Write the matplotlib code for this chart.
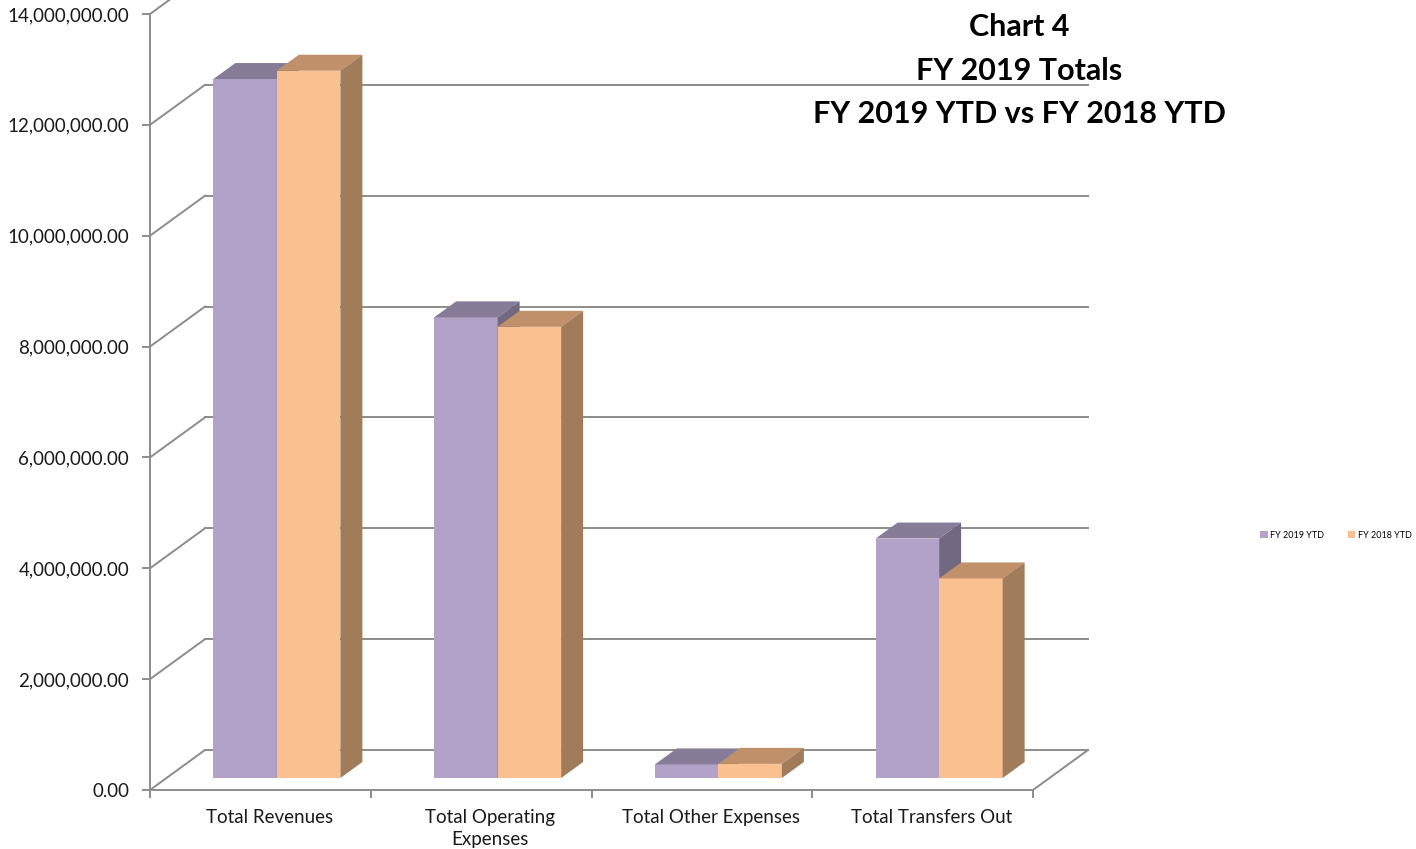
import matplotlib.pyplot as plt
import matplotlib.transforms as mtransforms
from matplotlib.patches import Polygon, Patch
from matplotlib.ticker import FuncFormatter

categories = ["Total Revenues", "Total Operating\nExpenses", "Total Other Expenses", "Total Transfers Out"]
series_names = ["FY 2019 YTD", "FY 2018 YTD"]
fy2019 = [12610000, 8310000, 245000, 4320000]
fy2018 = [12760000, 8140000, 255000, 3600000]
y_ticks = [0, 2e6, 4e6, 6e6, 8e6, 10e6, 12e6, 14e6]
title_lines = ["Chart 4", "FY 2019 Totals", "FY 2019 YTD vs FY 2018 YTD"]

# face colours: front, top, side
purple = ("#B3A2C7", "#877C97", "#736882")
orange = ("#FAC090", "#BF906A", "#A07C5B")

plt.rcParams["font.family"] = ["Lato", "DejaVu Sans"]

fig = plt.figure(figsize=(14.16, 8.49), dpi=100)
W, H = 1416, 849
ax = fig.add_axes([150 / W, (H - 790) / H, 883 / W, 776 / H])
ax.set_xlim(0, 4)
ax.set_ylim(0, 14e6)

# oblique depth offset (full depth of the wall)
dx = 55 / 883 * 4
dy = 40 / 776 * 14e6
grid_col = "#8C8C8C"
lw = 1.4

# back wall gridlines and left-wall diagonals
for v in y_ticks:
    ax.plot([0, dx], [v, v + dy], color=grid_col, lw=lw, clip_on=False, zorder=1)
    ax.plot([dx, 4 + dx], [v + dy, v + dy], color=grid_col, lw=lw, clip_on=False, zorder=1)
# floor right edge
ax.plot([4, 4 + dx], [0, dy], color=grid_col, lw=lw, clip_on=False, zorder=1)

# bars
bw = 0.2877
d0, d1 = 0.3, 0.7
for i in range(len(categories)):
    c = i + 0.5
    for j, (vals, cols) in enumerate([(fy2019, purple), (fy2018, orange)]):
        v = vals[i]
        x0 = c - bw + j * bw
        x1 = x0 + bw
        ax0, ay0 = d0 * dx, d0 * dy
        ax1, ay1 = d1 * dx, d1 * dy
        front = [(x0 + ax0, ay0), (x1 + ax0, ay0), (x1 + ax0, v + ay0), (x0 + ax0, v + ay0)]
        top = [(x0 + ax0, v + ay0), (x1 + ax0, v + ay0), (x1 + ax1, v + ay1), (x0 + ax1, v + ay1)]
        side = [(x1 + ax0, ay0), (x1 + ax1, ay1), (x1 + ax1, v + ay1), (x1 + ax0, v + ay0)]
        for poly, col in [(front, cols[0]), (top, cols[1]), (side, cols[2])]:
            ax.add_patch(Polygon(poly, closed=True, facecolor=col, edgecolor="none",
                                 clip_on=False, zorder=3 + i * 2 + j))

# axes styling
for s in ["top", "right"]:
    ax.spines[s].set_visible(False)
for s in ["left", "bottom"]:
    ax.spines[s].set_color(grid_col)
    ax.spines[s].set_linewidth(lw)
    ax.spines[s].set_zorder(2)
ax.set_yticks(y_ticks)
ax.yaxis.set_major_formatter(FuncFormatter(lambda v, p: f"{v:,.2f}"))
ax.set_xticks([0, 1, 2, 3, 4])
ax.set_xticklabels([])
ax.set_xticks([0.5, 1.5, 2.5, 3.5], minor=True)
ax.set_xticklabels(categories, minor=True, linespacing=1.35)
ax.tick_params(axis="both", which="major", color=grid_col, width=lw, length=6, direction="out",
               labelsize=13.5, labelcolor="#1a1a1a")
ax.tick_params(axis="y", pad=9)
ax.tick_params(axis="x", which="minor", length=0, pad=14, labelsize=13.5, labelcolor="#1a1a1a")
shift = mtransforms.ScaledTranslation(9 / 100, 0, fig.dpi_scale_trans)
for lab in ax.get_xticklabels(minor=True):
    lab.set_transform(lab.get_transform() + shift)
ax.patch.set_visible(False)

for k, (line, yc) in enumerate(zip(title_lines, [27, 71, 114])):
    fig.text(1019 / W, 1 - yc / H, line, ha="center", va="center", fontsize=22,
             fontweight="bold", color="black")

handles = [Patch(facecolor=purple[0]), Patch(facecolor=orange[0])]
fig.legend(handles, series_names, loc="center", bbox_to_anchor=(1336 / W, 1 - 535 / H), ncol=2,
           frameon=False, fontsize=6.5, handlelength=0.8, handleheight=0.8, handletextpad=0.3,
           columnspacing=2.6)

fig.savefig("out.png", dpi=100)
